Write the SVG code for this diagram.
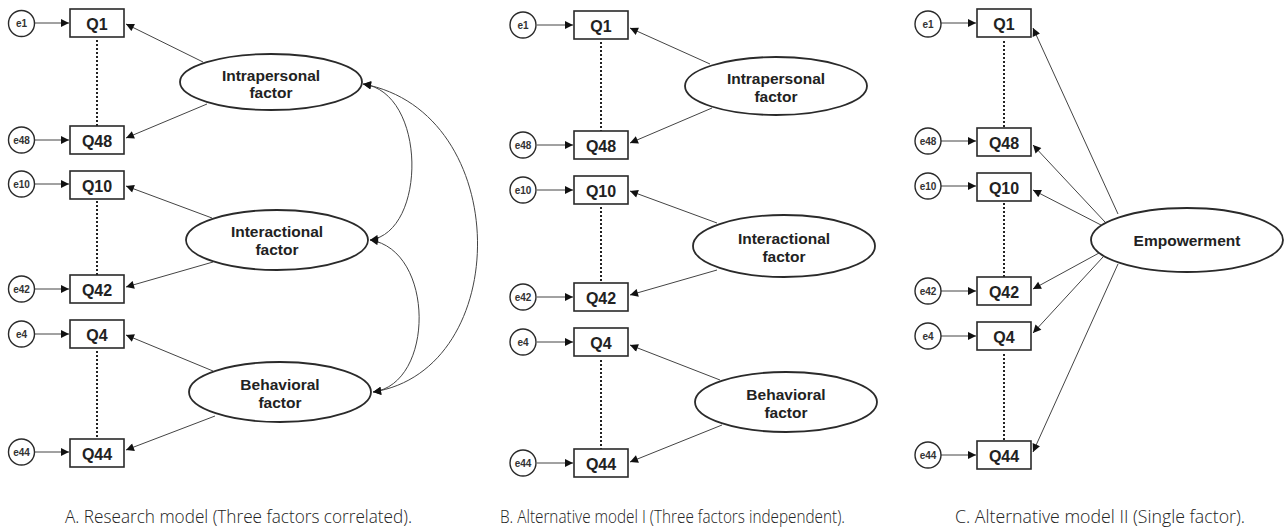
<svg xmlns="http://www.w3.org/2000/svg" width="1285" height="530" viewBox="0 0 1285 530">
<style>
.bg{fill:#fff}
.box{fill:#fff;stroke:#2a2a2a;stroke-width:1.6}
.err{fill:#fff;stroke:#2a2a2a;stroke-width:1.4}
.lat{fill:#fff;stroke:#2a2a2a;stroke-width:1.8}
.q{font-family:"Liberation Sans",Arial,sans-serif;font-weight:bold;font-size:16px;fill:#222;text-anchor:middle}
.e{font-family:"Liberation Sans",Arial,sans-serif;font-weight:bold;font-size:10px;fill:#333;text-anchor:middle}
.f{font-family:"Liberation Sans",Arial,sans-serif;font-weight:bold;font-size:15.5px;fill:#222;text-anchor:middle}
.cap{font-family:"Open Sans","Liberation Sans",sans-serif;font-weight:300;font-size:18px;fill:#222}
.ln{fill:none;stroke:#444;stroke-width:1;marker-end:url(#ah)}
.cv{fill:none;stroke:#444;stroke-width:1;marker-start:url(#ah);marker-end:url(#ah)}
.dot{stroke:#222;stroke-width:2;stroke-dasharray:2 2}
</style>
<defs>
<marker id="ah" viewBox="0 0 10 10" refX="10" refY="5" markerWidth="9" markerHeight="8" markerUnits="userSpaceOnUse" orient="auto-start-reverse">
<path d="M0,0 L10,5 L0,10 z" fill="#111"/>
</marker>
</defs>
<rect class="bg" x="0" y="0" width="1285" height="530"/>

<!-- Connectors -->
<g id="connectors">
<!-- Panel A -->
<line class="ln" x1="35" y1="23" x2="69" y2="23"/>
<line class="ln" x1="35" y1="140" x2="69" y2="140"/>
<line class="ln" x1="35" y1="184" x2="69" y2="184"/>
<line class="ln" x1="35" y1="289" x2="69" y2="289"/>
<line class="ln" x1="35" y1="334" x2="69" y2="334"/>
<line class="ln" x1="35" y1="452" x2="69" y2="452"/>
<line class="dot" x1="97" y1="40" x2="97" y2="126"/>
<line class="dot" x1="97" y1="201" x2="97" y2="275"/>
<line class="dot" x1="97" y1="351" x2="97" y2="439"/>
<line class="ln" x1="203" y1="62" x2="126" y2="24"/>
<line class="ln" x1="207" y1="104" x2="126" y2="138"/>
<line class="ln" x1="212" y1="218" x2="126" y2="186"/>
<line class="ln" x1="213" y1="262" x2="126" y2="287"/>
<line class="ln" x1="213" y1="371" x2="126" y2="335"/>
<line class="ln" x1="215" y1="416" x2="126" y2="450"/>
<path class="cv" d="M363,84 C427,92 427,232 370,240"/>
<path class="cv" d="M370,240 C435,250 435,384 373,392"/>
<path class="cv" d="M363,84 C514,112 514,370 373,392"/>
<!-- Panel B -->
<line class="ln" x1="537" y1="25" x2="573" y2="25"/>
<line class="ln" x1="537" y1="145" x2="573" y2="145"/>
<line class="ln" x1="537" y1="190" x2="573" y2="190"/>
<line class="ln" x1="537" y1="297" x2="573" y2="297"/>
<line class="ln" x1="537" y1="342" x2="573" y2="342"/>
<line class="ln" x1="537" y1="463" x2="573" y2="463"/>
<line class="dot" x1="601" y1="42" x2="601" y2="131"/>
<line class="dot" x1="601" y1="207" x2="601" y2="283"/>
<line class="dot" x1="601" y1="360" x2="601" y2="450"/>
<line class="ln" x1="710" y1="64" x2="630" y2="28"/>
<line class="ln" x1="712" y1="108" x2="630" y2="143"/>
<line class="ln" x1="717" y1="223" x2="630" y2="191"/>
<line class="ln" x1="717" y1="270" x2="630" y2="295"/>
<line class="ln" x1="720" y1="380" x2="630" y2="345"/>
<line class="ln" x1="722" y1="425" x2="630" y2="462"/>
<!-- Panel C -->
<line class="ln" x1="941" y1="23" x2="976" y2="23"/>
<line class="ln" x1="941" y1="141" x2="976" y2="141"/>
<line class="ln" x1="941" y1="186" x2="976" y2="186"/>
<line class="ln" x1="941" y1="291" x2="976" y2="291"/>
<line class="ln" x1="941" y1="336" x2="976" y2="336"/>
<line class="ln" x1="941" y1="455" x2="976" y2="455"/>
<line class="dot" x1="1004" y1="41" x2="1004" y2="128"/>
<line class="dot" x1="1004" y1="203" x2="1004" y2="277"/>
<line class="dot" x1="1004" y1="354" x2="1004" y2="442"/>
<line class="ln" x1="1118" y1="214" x2="1033" y2="28"/>
<line class="ln" x1="1105" y1="222" x2="1033" y2="145"/>
<line class="ln" x1="1101" y1="225" x2="1033" y2="190"/>
<line class="ln" x1="1099" y1="253" x2="1033" y2="289"/>
<line class="ln" x1="1103" y1="257" x2="1033" y2="333"/>
<line class="ln" x1="1118" y1="264" x2="1033" y2="452"/>
</g>

<!-- Panel A nodes -->
<g id="A-e1"><circle class="err" cx="21.5" cy="23.5" r="13"/><text class="e" x="21.5" y="27">e1</text></g>
<g id="A-e48"><circle class="err" cx="21.5" cy="140" r="13"/><text class="e" x="21.5" y="143.5">e48</text></g>
<g id="A-e10"><circle class="err" cx="21.5" cy="184" r="13"/><text class="e" x="21.5" y="187.5">e10</text></g>
<g id="A-e42"><circle class="err" cx="21.5" cy="289" r="13"/><text class="e" x="21.5" y="292.5">e42</text></g>
<g id="A-e4"><circle class="err" cx="21.5" cy="334" r="13"/><text class="e" x="21.5" y="337.5">e4</text></g>
<g id="A-e44"><circle class="err" cx="21.5" cy="452" r="13"/><text class="e" x="21.5" y="455.5">e44</text></g>
<g id="A-Q1"><rect class="box" x="70" y="9" width="54" height="28"/><text class="q" x="97" y="29.5">Q1</text></g>
<g id="A-Q48"><rect class="box" x="70" y="126" width="54" height="28"/><text class="q" x="97" y="146.5">Q48</text></g>
<g id="A-Q10"><rect class="box" x="70" y="171" width="54" height="28"/><text class="q" x="97" y="191.5">Q10</text></g>
<g id="A-Q42"><rect class="box" x="70" y="275" width="54" height="28"/><text class="q" x="97" y="295.5">Q42</text></g>
<g id="A-Q4"><rect class="box" x="70" y="320" width="54" height="28"/><text class="q" x="97" y="340.5">Q4</text></g>
<g id="A-Q44"><rect class="box" x="70" y="439" width="54" height="28"/><text class="q" x="97" y="459.5">Q44</text></g>
<g id="A-intra"><ellipse class="lat" cx="271" cy="82" rx="91" ry="28"/><text class="f" x="271" y="81">Intrapersonal</text><text class="f" x="271" y="98">factor</text></g>
<g id="A-inter"><ellipse class="lat" cx="277" cy="240" rx="91" ry="30"/><text class="f" x="277" y="237">Interactional</text><text class="f" x="277" y="255">factor</text></g>
<g id="A-behav"><ellipse class="lat" cx="280" cy="392" rx="91" ry="30"/><text class="f" x="280" y="390">Behavioral</text><text class="f" x="280" y="408">factor</text></g>

<!-- Panel B nodes -->
<g id="B-e1"><circle class="err" cx="523" cy="25" r="13"/><text class="e" x="523" y="28.5">e1</text></g>
<g id="B-e48"><circle class="err" cx="523" cy="145" r="13"/><text class="e" x="523" y="148.5">e48</text></g>
<g id="B-e10"><circle class="err" cx="523" cy="190" r="13"/><text class="e" x="523" y="193.5">e10</text></g>
<g id="B-e42"><circle class="err" cx="523" cy="297" r="13"/><text class="e" x="523" y="300.5">e42</text></g>
<g id="B-e4"><circle class="err" cx="523" cy="342" r="13"/><text class="e" x="523" y="345.5">e4</text></g>
<g id="B-e44"><circle class="err" cx="523" cy="463" r="13"/><text class="e" x="523" y="466.5">e44</text></g>
<g id="B-Q1"><rect class="box" x="574" y="11" width="54" height="28"/><text class="q" x="601" y="31.5">Q1</text></g>
<g id="B-Q48"><rect class="box" x="574" y="131" width="54" height="28"/><text class="q" x="601" y="151.5">Q48</text></g>
<g id="B-Q10"><rect class="box" x="574" y="176" width="54" height="28"/><text class="q" x="601" y="196.5">Q10</text></g>
<g id="B-Q42"><rect class="box" x="574" y="283" width="54" height="28"/><text class="q" x="601" y="303.5">Q42</text></g>
<g id="B-Q4"><rect class="box" x="574" y="328" width="54" height="28"/><text class="q" x="601" y="348.5">Q4</text></g>
<g id="B-Q44"><rect class="box" x="574" y="449" width="54" height="28"/><text class="q" x="601" y="469.5">Q44</text></g>
<g id="B-intra"><ellipse class="lat" cx="776" cy="86" rx="91" ry="29"/><text class="f" x="776" y="84">Intrapersonal</text><text class="f" x="776" y="102">factor</text></g>
<g id="B-inter"><ellipse class="lat" cx="784" cy="246" rx="91" ry="31"/><text class="f" x="784" y="244">Interactional</text><text class="f" x="784" y="262">factor</text></g>
<g id="B-behav"><ellipse class="lat" cx="786" cy="402" rx="91" ry="30"/><text class="f" x="786" y="400">Behavioral</text><text class="f" x="786" y="418">factor</text></g>

<!-- Panel C nodes -->
<g id="C-e1"><circle class="err" cx="928" cy="24" r="13"/><text class="e" x="928" y="27.5">e1</text></g>
<g id="C-e48"><circle class="err" cx="928" cy="141" r="13"/><text class="e" x="928" y="144.5">e48</text></g>
<g id="C-e10"><circle class="err" cx="928" cy="186" r="13"/><text class="e" x="928" y="189.5">e10</text></g>
<g id="C-e42"><circle class="err" cx="928" cy="291" r="13"/><text class="e" x="928" y="294.5">e42</text></g>
<g id="C-e4"><circle class="err" cx="928" cy="336" r="13"/><text class="e" x="928" y="339.5">e4</text></g>
<g id="C-e44"><circle class="err" cx="928" cy="455" r="13"/><text class="e" x="928" y="458.5">e44</text></g>
<g id="C-Q1"><rect class="box" x="977" y="9" width="54" height="28"/><text class="q" x="1004" y="29.5">Q1</text></g>
<g id="C-Q48"><rect class="box" x="977" y="128" width="54" height="28"/><text class="q" x="1004" y="148.5">Q48</text></g>
<g id="C-Q10"><rect class="box" x="977" y="173" width="54" height="28"/><text class="q" x="1004" y="193.5">Q10</text></g>
<g id="C-Q42"><rect class="box" x="977" y="277" width="54" height="28"/><text class="q" x="1004" y="297.5">Q42</text></g>
<g id="C-Q4"><rect class="box" x="977" y="322" width="54" height="28"/><text class="q" x="1004" y="342.5">Q4</text></g>
<g id="C-Q44"><rect class="box" x="977" y="441" width="54" height="28"/><text class="q" x="1004" y="461.5">Q44</text></g>
<g id="C-emp"><ellipse class="lat" cx="1187" cy="240" rx="96" ry="32"/><text class="f" x="1187" y="245.5">Empowerment</text></g>

<!-- Captions -->
<g id="captions">
<text class="cap" x="65" y="523" textLength="347" lengthAdjust="spacingAndGlyphs">A. Research model (Three factors correlated).</text>
<text class="cap" x="500" y="523" textLength="345" lengthAdjust="spacingAndGlyphs">B. Alternative model I (Three factors independent).</text>
<text class="cap" x="955" y="523" textLength="290" lengthAdjust="spacingAndGlyphs">C. Alternative model  II (Single factor).</text>
</g>
</svg>
